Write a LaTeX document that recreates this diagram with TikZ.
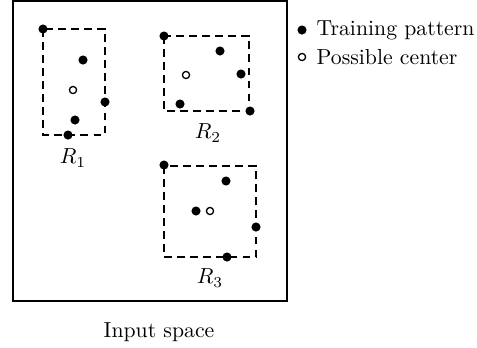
\documentclass[tikz,border=0pt]{standalone}
\begin{document}
\begin{tikzpicture}[x=0.46pt, y=-0.46pt,
  pat/.style={circle, fill=black, inner sep=0pt, minimum size=4.2pt},
  ctr/.style={circle, draw=black, fill=white, line width=0.6pt, inner sep=0pt, minimum size=3.3pt},
  region/.style={line width=0.7pt, dash pattern=on 3.6pt off 2.4pt}]

  \useasboundingbox (0,0) rectangle (477,347);

  % Input space frame and caption.
  \draw[line width=0.9pt] (13,1) rectangle (287,301);
  \node (space) at (159,332) {Input space};

  % Region R1.
  \draw[region] (43,29) rectangle (105,135);
  \node[pat] (p11) at (43,29) {};
  \node[pat] (p12) at (83,60) {};
  \node[ctr] (c1) at (73,90) {};
  \node[pat] (p13) at (105,102) {};
  \node[pat] (p14) at (75,120) {};
  \node[pat] (p15) at (68,135) {};
  \node (r1) at (73,158) {$R_1$};

  % Region R2.
  \draw[region] (164,36) rectangle (249,111);
  \node[pat] (p21) at (164,36) {};
  \node[pat] (p22) at (220,51) {};
  \node[ctr] (c2) at (186,75) {};
  \node[pat] (p23) at (241,74) {};
  \node[pat] (p24) at (180,104) {};
  \node[pat] (p25) at (250,111) {};
  \node (r2) at (208,133) {$R_2$};

  % Region R3.
  \draw[region] (164,166) rectangle (256,257);
  \node[pat] (p31) at (164,165) {};
  \node[pat] (p32) at (226,181) {};
  \node[pat] (p33) at (196,211) {};
  \node[ctr] (c3) at (210,211) {};
  \node[pat] (p34) at (256,227) {};
  \node[pat] (p35) at (227,257) {};
  \node (r3) at (210,278) {$R_3$};

  % Legend.
  \node[pat] (lp) at (302,30) {};
  \node[anchor=west] (lpt) at (309,30) {Training pattern};
  \node[ctr] (lc) at (302,57) {};
  \node[anchor=west] (lct) at (309,57) {Possible center};

\end{tikzpicture}
\end{document}
